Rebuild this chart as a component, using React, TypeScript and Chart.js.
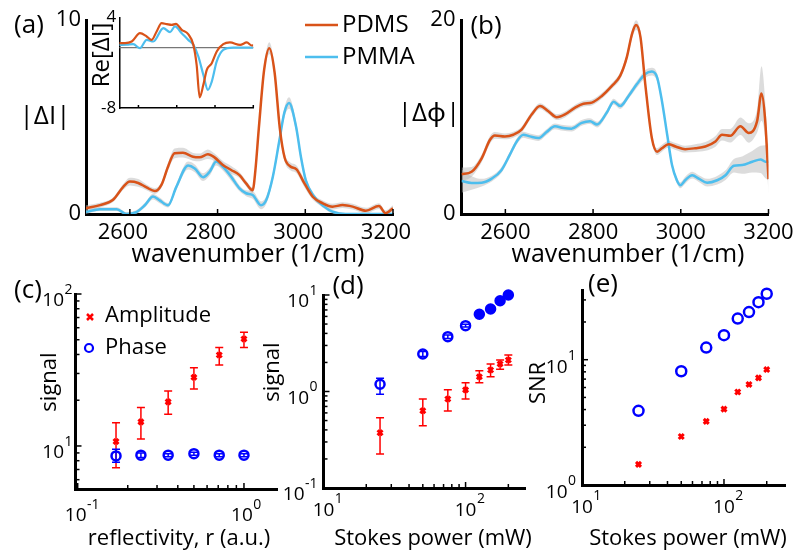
import React, { useEffect, useRef } from 'react';
import { Chart, registerables } from 'chart.js';
Chart.register(...registerables);

const W = 801;
const H = 553;
const FONT = '"Open Sans", "Noto Sans", "DejaVu Sans", sans-serif';
const ORANGE = '#D95319';
const SKY = '#4DBEEE';
const RED = '#FF0000';
const BLUE = '#0000FF';
const BAND = 'rgba(185,185,185,0.5)';
const YW = 50; // width kept for y tick labels
const XH = 44; // height kept for x tick labels

// ---------- (a) |ΔI| spectra ----------
const A_wnPDMS = [2500, 2532, 2561, 2585, 2600, 2619, 2638, 2657, 2672, 2687, 2702, 2721, 2744, 2759, 2778, 2793, 2812, 2831, 2850, 2865, 2880, 2886, 2894, 2906, 2918, 2930, 2942, 2953, 2966, 2980, 2998, 3017, 3040, 3062, 3085, 3108, 3138, 3168, 3183, 3200];
const A_PDMS = [0.3, 0.46, 0.72, 1.4, 1.67, 1.6, 1.37, 1.18, 1.5, 2.44, 3.13, 3.16, 2.95, 2.92, 3.08, 2.92, 2.53, 2.27, 2.0, 1.58, 1.22, 2.2, 4.4, 7.4, 8.55, 7.3, 4.4, 2.9, 2.45, 2.3, 1.58, 0.89, 0.55, 0.38, 0.46, 0.38, 0.17, 0.41, 0.04, 0.3];
const A_errPDMS = [0.15, 0.12, 0.12, 0.15, 0.2, 0.2, 0.15, 0.15, 0.15, 0.2, 0.25, 0.25, 0.2, 0.2, 0.25, 0.2, 0.2, 0.2, 0.15, 0.15, 0.15, 0.2, 0.2, 0.25, 0.3, 0.25, 0.2, 0.2, 0.2, 0.2, 0.2, 0.15, 0.15, 0.15, 0.15, 0.15, 0.15, 0.15, 0.15, 0.15];
const A_wnPMMA = [2500, 2532, 2570, 2592, 2615, 2634, 2653, 2668, 2687, 2706, 2733, 2748, 2767, 2782, 2797, 2812, 2831, 2850, 2865, 2880, 2899, 2911, 2926, 2941, 2952, 2963, 2979, 2990, 3001, 3020, 3043, 3062, 3092, 3150, 3200];
const A_PMMA = [0.1, 0.25, 0.25, 0, 0.1, 0.45, 0.9, 0.7, 0.45, 1.4, 2.5, 2.35, 1.9, 2.18, 2.7, 2.44, 1.92, 1.32, 1.07, 0.98, 0.45, 0.72, 1.92, 3.8, 5.2, 5.72, 4.5, 2.95, 1.75, 0.9, 0.38, 0.12, 0, 0, 0];
const A_errPMMA = [0.1, 0.1, 0.1, 0.1, 0.1, 0.12, 0.15, 0.15, 0.12, 0.15, 0.2, 0.2, 0.2, 0.2, 0.2, 0.2, 0.2, 0.15, 0.15, 0.2, 0.2, 0.2, 0.2, 0.25, 0.25, 0.3, 0.25, 0.2, 0.2, 0.15, 0.1, 0.1, 0.05, 0.05, 0.05];

// ---------- inset Re[ΔI] ----------
const I_wnPDMS = [2500, 2530, 2565, 2608, 2643, 2669, 2695, 2721, 2748, 2774, 2796, 2826, 2860, 2887, 2904, 2920, 2939, 2957, 2983, 3009, 3043, 3078, 3131, 3166, 3192, 3200];
const I_PDMS = [0.6, 0.6, 0.82, 1.92, 1.49, 1.03, 2.15, 3.25, 3.12, 3.02, 3.16, 2.36, 1.79, 0.37, -2.28, -6.6, -4.93, -2.94, -2.06, -0.5, 0.46, 0.69, 0.37, 0.69, 0.29, 0.3];
const I_wnPMMA = [2500, 2540, 2573, 2608, 2643, 2678, 2730, 2765, 2791, 2826, 2860, 2887, 2913, 2939, 2963, 2983, 3009, 3043, 3095, 3200];
const I_PMMA = [0.37, 0.4, 0.46, -0.07, 1.03, 0.82, 2.59, 2.06, 2.81, 1.92, 1.03, 0.37, -1.17, -3.6, -5.6, -4.5, -1.83, -0.29, 0, 0];

// ---------- (b) |Δϕ| spectra ----------
const B_wnPDMS = [2500, 2523, 2546, 2565, 2576, 2599, 2618, 2637, 2660, 2679, 2698, 2717, 2736, 2759, 2778, 2797, 2820, 2843, 2862, 2877, 2889, 2898, 2908, 2919, 2934, 2946, 2957, 2972, 2988, 3010, 3033, 3056, 3079, 3094, 3113, 3136, 3155, 3174, 3184, 3192, 3200];
const B_PDMS = [4.1, 4.35, 5.74, 7.65, 8.1, 8.0, 8.17, 8.7, 10.26, 11.13, 10.6, 9.98, 10.26, 10.96, 11.37, 11.48, 12.17, 13.2, 14.26, 16.17, 18.6, 19.48, 18.26, 13.4, 7.83, 6.43, 6.78, 7.2, 6.96, 6.68, 6.78, 6.96, 7.48, 8.17, 8.07, 9.04, 8.35, 9.57, 12.42, 9.9, 3.6];
const B_errPDMS = [0.7, 0.5, 0.4, 0.4, 0.35, 0.3, 0.3, 0.3, 0.3, 0.3, 0.3, 0.3, 0.3, 0.3, 0.3, 0.3, 0.3, 0.3, 0.35, 0.4, 0.45, 0.5, 0.45, 0.4, 0.35, 0.35, 0.35, 0.35, 0.35, 0.35, 0.4, 0.45, 0.55, 0.6, 0.7, 0.9, 1.0, 1.2, 2.8, 2.0, 1.5];
const B_wnPMMA = [2500, 2523, 2546, 2569, 2591, 2610, 2626, 2641, 2656, 2675, 2694, 2713, 2732, 2751, 2774, 2793, 2809, 2831, 2847, 2862, 2881, 2900, 2919, 2934, 2946, 2957, 2969, 2980, 2991, 2999, 3010, 3026, 3041, 3060, 3083, 3102, 3121, 3140, 3163, 3182, 3193, 3200];
const B_PMMA = [3.4, 3.2, 3.23, 3.65, 4.52, 6.09, 7.48, 8.17, 8.0, 7.83, 8.45, 9.04, 8.87, 8.8, 9.39, 9.57, 9.22, 10.43, 11.58, 11.13, 12.17, 13.39, 14.43, 14.68, 14.09, 11.65, 8.17, 5.04, 3.48, 2.96, 3.48, 4.0, 3.65, 3.23, 3.48, 4.0, 4.97, 5.04, 5.39, 5.63, 5.39, 5.39];
const B_errPMMA = [1.2, 0.7, 0.4, 0.3, 0.3, 0.3, 0.3, 0.3, 0.3, 0.3, 0.3, 0.3, 0.3, 0.3, 0.3, 0.3, 0.3, 0.3, 0.3, 0.3, 0.3, 0.35, 0.4, 0.4, 0.4, 0.35, 0.3, 0.3, 0.3, 0.3, 0.35, 0.35, 0.35, 0.4, 0.45, 0.5, 0.7, 0.9, 1.1, 1.4, 1.7, 1.9];

// ---------- (c) signal vs reflectivity ----------
const C_r = [0.17, 0.24, 0.35, 0.5, 0.71, 1.0];
const C_amp = [10.7, 14.4, 19.5, 28.3, 39.7, 50.6];
const C_ampLo = [7.2, 11.1, 16.2, 23.7, 34.1, 44.4];
const C_ampHi = [14.2, 17.9, 23.0, 32.7, 44.4, 56.0];
const C_phase = [8.6, 8.7, 8.7, 8.9, 8.7, 8.7];
const C_phaseLo = [7.8, 8.4, 8.5, 8.7, 8.5, 8.5];
const C_phaseHi = [9.5, 9.0, 8.9, 9.1, 8.9, 8.9];

// ---------- (d) signal vs Stokes power ----------
const D_p = [25, 50, 75, 100, 125, 150, 175, 200];
const D_amp = [0.374, 0.632, 0.836, 1.04, 1.42, 1.67, 1.93, 2.12];
const D_ampLo = [0.225, 0.442, 0.628, 0.836, 1.23, 1.42, 1.70, 1.88];
const D_ampHi = [0.535, 0.836, 1.04, 1.23, 1.64, 1.93, 2.12, 2.39];
const D_phase = [1.19, 2.45, 3.70, 4.81, 6.31, 7.16, 8.73, 10.0];
const D_phaseLo = [0.935, 2.3, 3.55, 4.65, 6.1, 6.95, 8.5, 9.7];
const D_phaseHi = [1.37, 2.6, 3.85, 4.97, 6.5, 7.4, 8.95, 10.3];

// ---------- (e) SNR vs Stokes power ----------
const E_p = [25, 50, 75, 100, 125, 150, 175, 200];
const E_amp = [1.46, 2.44, 3.22, 4.03, 5.52, 6.35, 7.16, 8.34];
const E_phase = [3.91, 8.09, 12.5, 15.7, 21.3, 24.0, 28.8, 33.6];

// ---------- tick lists ----------
const WN_TICKS = [2600, 2800, 3000, 3200];
const DEC_MINOR = [2, 3, 4, 5, 6, 7, 8, 9];

// ---------- helpers ----------
const pts = (xs: number[], ys: number[]) => xs.map((x, i) => ({ x, y: ys[i] }));
const shifted = (xs: number[], ys: number[], es: number[], s: number) => xs.map((x, i) => ({ x, y: ys[i] + s * es[i] }));
const minorsOf = (decades: number[]) => decades.flatMap((d) => DEC_MINOR.map((m) => m * d));

function baseOpts(L: number, T: number, R: number, B: number, scales: any, yw = YW, xh = XH) {
  return {
    responsive: false,
    animation: false,
    devicePixelRatio: 1,
    events: [],
    layout: { padding: { left: L - yw, top: T, right: W - R, bottom: H - B - xh } },
    plugins: { legend: { display: false }, tooltip: { enabled: false } },
    scales,
  };
}

function axis(type: string, pos: string, min: number, max: number, ticks: number[], o: any = {}) {
  const yw = o.yw ?? YW;
  const xh = o.xh ?? XH;
  return {
    type,
    position: pos,
    min,
    max,
    afterFit: pos === 'bottom' ? (s: any) => { s.height = xh; } : (s: any) => { s.width = yw; },
    afterBuildTicks: (s: any) => { s.ticks = ticks.map((v) => ({ value: v })); },
    grid: { display: false, drawTicks: false },
    border: { display: true, color: '#000', width: o.bw ?? 3 },
    ticks: {
      display: !!o.labels,
      autoSkip: false,
      maxRotation: 0,
      minRotation: 0,
      padding: o.pad ?? 6,
      labelOffset: o.off ?? 0,
      color: '#000',
      font: { family: FONT, size: o.size ?? 22 },
      callback: (v: any) => String(v),
    },
  };
}

const lineDs = (xs: number[], ys: number[], color: string, w = 2.5) => ({
  data: pts(xs, ys), borderColor: color, borderWidth: w, pointRadius: 0,
  cubicInterpolationMode: 'monotone', fill: false,
});
const bandDs = (xs: number[], ys: number[], es: number[], s: number, fill: boolean) => ({
  data: shifted(xs, ys, es, s), borderColor: 'rgba(0,0,0,0)', borderWidth: 0, pointRadius: 0,
  cubicInterpolationMode: 'monotone', fill: fill ? '+1' : false, backgroundColor: BAND,
});

type Txt = { t: string; x: number; y: number; s: number; rot?: boolean; al?: CanvasTextAlign };
const textPlugin = (items: Txt[]) => ({
  id: 'texts',
  afterDraw(chart: any) {
    const ctx = chart.ctx;
    items.forEach((it) => {
      ctx.save();
      ctx.font = `${it.s}px ${FONT}`;
      ctx.fillStyle = '#000';
      ctx.textAlign = it.al || 'center';
      ctx.textBaseline = 'middle';
      ctx.translate(it.x, it.y);
      if (it.rot) ctx.rotate(-Math.PI / 2);
      ctx.fillText(it.t, 0, 0);
      ctx.restore();
    });
  },
});

const inTicks = (cfg: { id: string; major: number[]; minor?: number[]; maj: number; min?: number; w: number }[]) => ({
  id: 'inticks',
  afterDraw(chart: any) {
    const ctx = chart.ctx;
    const a = chart.chartArea;
    cfg.forEach((c) => {
      const sc = chart.scales[c.id];
      ctx.save();
      ctx.strokeStyle = '#000';
      ctx.lineWidth = c.w;
      const draw = (v: number, len: number) => {
        const p = sc.getPixelForValue(v);
        ctx.beginPath();
        if (sc.isHorizontal()) { ctx.moveTo(p, a.bottom); ctx.lineTo(p, a.bottom - len); }
        else { ctx.moveTo(a.left, p); ctx.lineTo(a.left + len, p); }
        ctx.stroke();
      };
      c.major.forEach((v) => draw(v, c.maj));
      (c.minor || []).forEach((v) => { if (v >= sc.min && v <= sc.max) draw(v, c.min || 3); });
      ctx.restore();
    });
  },
});

const powLabels = (cfg: { id: string; exps: number[]; base: number; sup: number; gap?: number; dx?: number }[]) => ({
  id: 'powlabels',
  afterDraw(chart: any) {
    const ctx = chart.ctx;
    const a = chart.chartArea;
    cfg.forEach((c) => {
      const sc = chart.scales[c.id];
      c.exps.forEach((e) => {
        const p = sc.getPixelForValue(Math.pow(10, e));
        const sup = String(e);
        ctx.save();
        ctx.fillStyle = '#000';
        ctx.textBaseline = 'middle';
        ctx.font = `19px ${FONT}`;
        const wb = ctx.measureText('10').width;
        ctx.font = `14px ${FONT}`;
        const ws = ctx.measureText(sup).width;
        if (sc.isHorizontal()) {
          const bx = p - wb / 2 + (c.dx || 0);
          ctx.textAlign = 'left';
          ctx.font = `19px ${FONT}`;
          ctx.fillText('10', bx, a.bottom + c.base);
          ctx.font = `14px ${FONT}`;
          ctx.fillText(sup, bx + wb + 0.5, a.bottom + c.sup);
        } else {
          const sr = a.left - (c.gap || 4);
          ctx.textAlign = 'right';
          ctx.font = `14px ${FONT}`;
          ctx.fillText(sup, sr, p + c.sup);
          ctx.font = `19px ${FONT}`;
          ctx.fillText('10', sr - ws - 0.5, p + c.base);
        }
        ctx.restore();
      });
    });
  },
});

const errBars = (sets: { xs: number[]; lo: number[]; hi: number[]; color: string; cap: number; w: number }[]) => ({
  id: 'errbars',
  beforeDatasetsDraw(chart: any) {
    const ctx = chart.ctx;
    const xs = chart.scales.x;
    const ys = chart.scales.y;
    sets.forEach((s) => {
      ctx.save();
      ctx.strokeStyle = s.color;
      ctx.lineWidth = s.w;
      s.xs.forEach((xv, i) => {
        const x = xs.getPixelForValue(xv);
        const y1 = ys.getPixelForValue(s.lo[i]);
        const y2 = ys.getPixelForValue(s.hi[i]);
        ctx.beginPath();
        ctx.moveTo(x, y1); ctx.lineTo(x, y2);
        ctx.moveTo(x - s.cap, y1); ctx.lineTo(x + s.cap, y1);
        ctx.moveTo(x - s.cap, y2); ctx.lineTo(x + s.cap, y2);
        ctx.stroke();
      });
      ctx.restore();
    });
  },
});

// ---------- chart configs ----------
function cfgA(): any {
  const legend = {
    id: 'legA',
    afterDraw(chart: any) {
      const ctx = chart.ctx;
      [[ORANGE, 25, 'PDMS'], [SKY, 57, 'PMMA']].forEach(([c, y, t]: any) => {
        ctx.save();
        ctx.strokeStyle = c; ctx.lineWidth = 2.5;
        ctx.beginPath(); ctx.moveTo(305, y); ctx.lineTo(338, y); ctx.stroke();
        ctx.font = `24px ${FONT}`; ctx.fillStyle = '#000'; ctx.textAlign = 'left'; ctx.textBaseline = 'middle';
        ctx.fillText(t, 342, y);
        ctx.restore();
      });
    },
  };
  return {
    type: 'line',
    data: {
      datasets: [
        lineDs(A_wnPDMS, A_PDMS, ORANGE),
        lineDs(A_wnPMMA, A_PMMA, SKY),
        bandDs(A_wnPDMS, A_PDMS, A_errPDMS, 1, true),
        bandDs(A_wnPDMS, A_PDMS, A_errPDMS, -1, false),
        bandDs(A_wnPMMA, A_PMMA, A_errPMMA, 1, true),
        bandDs(A_wnPMMA, A_PMMA, A_errPMMA, -1, false),
      ],
    },
    options: baseOpts(86, 20, 393, 214, {
      x: axis('linear', 'bottom', 2500, 3200, WN_TICKS, { labels: true, pad: 6, off: -7 }),
      y: axis('linear', 'left', 0, 10, [0, 10], { labels: true, pad: 5 }),
    }),
    plugins: [
      inTicks([{ id: 'x', major: WN_TICKS, maj: 5, w: 1.5 }]),
      textPlugin([
        { t: '(a)', x: 29, y: 26, s: 26 },
        { t: '|ΔI|', x: 45, y: 117, s: 26 },
        { t: 'wavenumber (1/cm)', x: 248, y: 255, s: 25 },
      ]),
      legend,
    ],
  };
}

function cfgInset(): any {
  const zero = {
    id: 'zeroline',
    beforeDatasetsDraw(chart: any) {
      const ctx = chart.ctx;
      const a = chart.chartArea;
      const y = chart.scales.y.getPixelForValue(0);
      ctx.save(); ctx.strokeStyle = '#777'; ctx.lineWidth = 1.2;
      ctx.beginPath(); ctx.moveTo(a.left, y); ctx.lineTo(a.right, y); ctx.stroke(); ctx.restore();
    },
  };
  return {
    type: 'line',
    data: {
      datasets: [
        lineDs(I_wnPDMS, I_PDMS, ORANGE, 2.2),
        lineDs(I_wnPMMA, I_PMMA, SKY, 2.2),
      ],
    },
    options: baseOpts(119.3, 17.5, 253.3, 108, {
      x: axis('linear', 'bottom', 2500, 3200, WN_TICKS, { bw: 1.5, xh: 10 }),
      y: axis('linear', 'left', -8, 4, [-8, 4], { labels: true, pad: 3, size: 17, bw: 1.5, yw: 30 }),
    }, 30, 10),
    plugins: [
      zero,
      inTicks([{ id: 'x', major: WN_TICKS, maj: 3, w: 1.5 }]),
      textPlugin([{ t: 'Re[ΔI]', x: 102, y: 55, s: 24, rot: true }]),
    ],
  };
}

function cfgB(): any {
  return {
    type: 'line',
    data: {
      datasets: [
        lineDs(B_wnPDMS, B_PDMS, ORANGE),
        lineDs(B_wnPMMA, B_PMMA, SKY),
        bandDs(B_wnPDMS, B_PDMS, B_errPDMS, 1, true),
        bandDs(B_wnPDMS, B_PDMS, B_errPDMS, -1, false),
        bandDs(B_wnPMMA, B_PMMA, B_errPMMA, 1, true),
        bandDs(B_wnPMMA, B_PMMA, B_errPMMA, -1, false),
      ],
    },
    options: baseOpts(461.5, 20, 768.5, 214, {
      x: axis('linear', 'bottom', 2500, 3200, WN_TICKS, { labels: true, pad: 6 }),
      y: axis('linear', 'left', 0, 20, [0, 20], { labels: true, pad: 6 }),
    }),
    plugins: [
      inTicks([{ id: 'x', major: WN_TICKS, maj: 5, w: 1.5 }]),
      textPlugin([
        { t: '(b)', x: 486, y: 27, s: 26 },
        { t: '|Δϕ|', x: 429, y: 114, s: 26 },
        { t: 'wavenumber (1/cm)', x: 628, y: 255, s: 25 },
      ]),
    ],
  };
}

function cfgC(): any {
  const legend = {
    id: 'legC',
    afterDraw(chart: any) {
      const ctx = chart.ctx;
      ctx.save();
      ctx.strokeStyle = RED; ctx.lineWidth = 2.5;
      ctx.beginPath();
      ctx.moveTo(87, 314); ctx.lineTo(93, 320); ctx.moveTo(93, 314); ctx.lineTo(87, 320);
      ctx.stroke();
      ctx.strokeStyle = BLUE; ctx.lineWidth = 2.2;
      ctx.beginPath(); ctx.arc(89, 348, 4, 0, Math.PI * 2); ctx.stroke();
      ctx.font = `22px ${FONT}`; ctx.fillStyle = '#000'; ctx.textAlign = 'left'; ctx.textBaseline = 'middle';
      ctx.fillText('Amplitude', 105, 316);
      ctx.fillText('Phase', 105, 348);
      ctx.restore();
    },
  };
  return {
    type: 'scatter',
    data: {
      datasets: [
        { data: pts(C_r, C_amp), pointStyle: 'crossRot', pointRadius: 3.5, borderColor: RED, backgroundColor: RED, borderWidth: 3, clip: false },
        { data: pts(C_r, C_phase), pointStyle: 'circle', pointRadius: 4.5, borderColor: BLUE, backgroundColor: 'rgba(0,0,0,0)', borderWidth: 2.5, clip: false },
      ],
    },
    options: baseOpts(75.5, 294, 277, 489, {
      x: axis('logarithmic', 'bottom', 0.097, 1.58, [0.1, 1]),
      y: axis('logarithmic', 'left', 5.21, 100, [10, 100]),
    }),
    plugins: [
      errBars([
        { xs: C_r, lo: C_ampLo, hi: C_ampHi, color: RED, cap: 4, w: 1.5 },
        { xs: C_r, lo: C_phaseLo, hi: C_phaseHi, color: BLUE, cap: 4, w: 1.5 },
      ]),
      inTicks([
        { id: 'x', major: [0.1, 1], minor: minorsOf([0.1]), maj: 6, min: 4, w: 1.5 },
        { id: 'y', major: [10, 100], minor: minorsOf([1, 10]), maj: 6, min: 4, w: 1.5 },
      ]),
      powLabels([
        { id: 'x', exps: [-1, 0], base: 27, sup: 16, dx: -2 },
        { id: 'y', exps: [1, 2], base: 7, sup: -4, gap: 3 },
      ]),
      textPlugin([
        { t: '(c)', x: 28, y: 291, s: 26 },
        { t: 'signal', x: 50, y: 382, s: 22, rot: true },
        { t: 'reflectivity, r (a.u.)', x: 179, y: 539, s: 22 },
      ]),
      legend,
    ],
  };
}

function cfgD(): any {
  return {
    type: 'scatter',
    data: {
      datasets: [
        { data: pts(D_p, D_amp), pointStyle: 'crossRot', pointRadius: 3.5, borderColor: RED, backgroundColor: RED, borderWidth: 3, clip: false },
        { data: pts(D_p, D_phase), pointStyle: 'circle', pointRadius: 4.5, borderColor: BLUE, backgroundColor: D_p.map((_, i) => (i >= 4 ? BLUE : 'rgba(0,0,0,0)')), borderWidth: 2.5, clip: false },
      ],
    },
    options: baseOpts(323.5, 295, 525, 488, {
      x: axis('logarithmic', 'bottom', 10, 262, [10, 100]),
      y: axis('logarithmic', 'left', 0.1, 10, [0.1, 1, 10]),
    }),
    plugins: [
      errBars([
        { xs: D_p, lo: D_ampLo, hi: D_ampHi, color: RED, cap: 4, w: 1.5 },
        { xs: D_p, lo: D_phaseLo, hi: D_phaseHi, color: BLUE, cap: 4, w: 1.5 },
      ]),
      inTicks([
        { id: 'x', major: [10, 100], minor: minorsOf([10, 100]), maj: 6, min: 4, w: 1.5 },
        { id: 'y', major: [0.1, 1, 10], minor: minorsOf([0.1, 1]), maj: 6, min: 4, w: 1.5 },
      ]),
      powLabels([
        { id: 'x', exps: [1, 2], base: 23, sup: 11 },
        { id: 'y', exps: [-1, 0, 1], base: 7, sup: -4, gap: 6 },
      ]),
      textPlugin([
        { t: '(d)', x: 348, y: 287, s: 26 },
        { t: 'signal', x: 273, y: 372, s: 22, rot: true },
        { t: 'Stokes power (mW)', x: 433, y: 539, s: 22 },
      ]),
    ],
  };
}

function cfgE(): any {
  return {
    type: 'scatter',
    data: {
      datasets: [
        { data: pts(E_p, E_amp), pointStyle: 'crossRot', pointRadius: 3.5, borderColor: RED, backgroundColor: RED, borderWidth: 3, clip: false },
        { data: pts(E_p, E_phase), pointStyle: 'circle', pointRadius: 5, borderColor: BLUE, backgroundColor: 'rgba(0,0,0,0)', borderWidth: 2.5, clip: false },
      ],
    },
    options: baseOpts(582, 290, 785, 485, {
      x: axis('logarithmic', 'bottom', 10, 269, [10, 100]),
      y: axis('logarithmic', 'left', 1, 36, [1, 10]),
    }),
    plugins: [
      inTicks([
        { id: 'x', major: [10, 100], minor: minorsOf([10, 100]), maj: 6, min: 4, w: 1.5 },
        { id: 'y', major: [1, 10], minor: minorsOf([1, 10]), maj: 6, min: 4, w: 1.5 },
      ]),
      powLabels([
        { id: 'x', exps: [1, 2], base: 23, sup: 11 },
        { id: 'y', exps: [0, 1], base: 8, sup: -4, gap: 6 },
      ]),
      textPlugin([
        { t: '(e)', x: 603, y: 285, s: 26 },
        { t: 'SNR', x: 539, y: 383, s: 22, rot: true },
        { t: 'Stokes power (mW)', x: 688, y: 539, s: 22 },
      ]),
    ],
  };
}

export default function App() {
  const r0 = useRef<HTMLCanvasElement>(null);
  const r1 = useRef<HTMLCanvasElement>(null);
  const r2 = useRef<HTMLCanvasElement>(null);
  const r3 = useRef<HTMLCanvasElement>(null);
  const r4 = useRef<HTMLCanvasElement>(null);
  const r5 = useRef<HTMLCanvasElement>(null);
  const refs = [r0, r1, r2, r3, r4, r5];

  useEffect(() => {
    const cfgs = [cfgA(), cfgInset(), cfgB(), cfgC(), cfgD(), cfgE()];
    const charts = cfgs.map((c, i) => new Chart(refs[i].current as HTMLCanvasElement, c));
    return () => charts.forEach((ch) => ch.destroy());
  }, []);

  return (
    <div style={{ position: 'fixed', left: 0, top: 0, width: W, height: H, background: '#fff', overflow: 'hidden' }}>
      {refs.map((r, i) => (
        <canvas key={i} ref={r} width={W} height={H} style={{ position: 'absolute', left: 0, top: 0, width: W, height: H }} />
      ))}
    </div>
  );
}
